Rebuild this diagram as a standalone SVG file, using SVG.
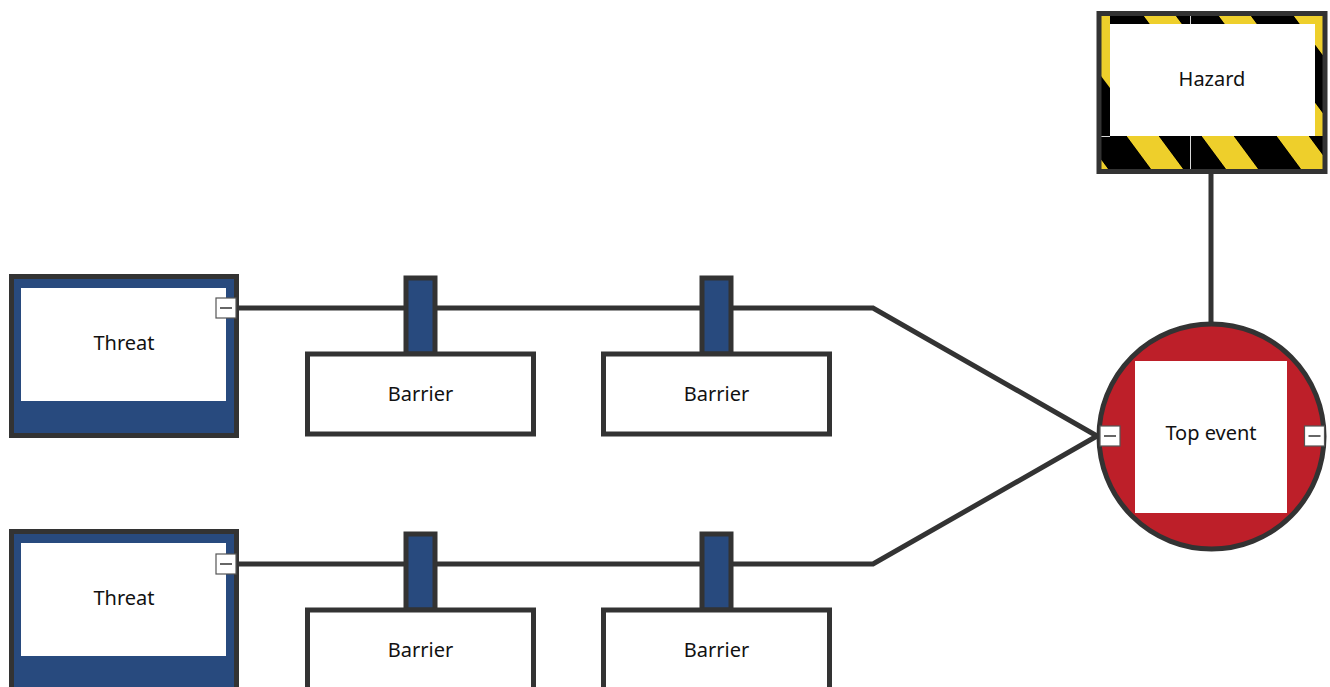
<svg xmlns="http://www.w3.org/2000/svg" width="1330" height="687" viewBox="0 0 1330 687">
<style>
.ln{fill:none;stroke:#333333;stroke-width:5}
.bd{stroke:#333333;stroke-width:5}
.blue{fill:#284a7e}
.wh{fill:#ffffff}
.lbl{font-family:"Noto Sans","Open Sans",sans-serif;font-size:20px;fill:#111111;text-anchor:middle}
.mbox{fill:#ffffff;stroke:#555555;stroke-width:1.2}
.mline{stroke:#333333;stroke-width:1.5}
</style>
<defs>
<pattern id="stA" patternUnits="userSpaceOnUse" x="7" y="0" width="75" height="75" patternTransform="skewX(36.5)">
<rect x="0" y="0" width="75" height="75" fill="#000000"/>
<rect x="0" y="0" width="32" height="75" fill="#eecf2b"/>
</pattern>
<pattern id="stB" patternUnits="userSpaceOnUse" x="51" y="0" width="75" height="75" patternTransform="skewX(36.5)">
<rect x="0" y="0" width="75" height="75" fill="#000000"/>
<rect x="0" y="0" width="32" height="75" fill="#eecf2b"/>
</pattern>
<g id="minus">
<rect class="mbox" x="-10" y="-10" width="20" height="20"/>
<line class="mline" x1="-6" y1="0" x2="6" y2="0"/>
</g>
</defs>

<g id="connectors">
<path class="ln" d="M236 308 H873 L1097 436"/>
<path class="ln" d="M236 564 H873 L1097 436"/>
<line class="ln" x1="1211" y1="173" x2="1211" y2="323"/>
</g>

<g id="hazard">
<rect x="1101" y="16" width="223" height="120" fill="url(#stA)"/>
<rect x="1101" y="24" width="9" height="112" fill="#000000"/>
<polygon points="1101,16 1110,16 1110,88 1101,76" fill="#eecf2b"/>
<rect x="1101" y="136" width="223" height="34" fill="url(#stB)"/>
<line x1="1190.5" y1="16" x2="1190.5" y2="170" stroke="#d8d8d8" stroke-width="1"/>
<line x1="1101" y1="136.5" x2="1110" y2="136.5" stroke="#d8d8d8" stroke-width="1"/>
<rect class="wh" x="1110" y="24" width="205" height="112"/>
<rect class="bd" x="1099" y="13.5" width="226" height="158" fill="none"/>
<text class="lbl" x="1212" y="86">Hazard</text>
</g>

<g id="threat1">
<rect class="bd blue" x="11.5" y="276.5" width="225" height="159"/>
<rect class="wh" x="21" y="288" width="205" height="113"/>
<text class="lbl" x="124" y="350">Threat</text>
<use href="#minus" x="226" y="308"/>
</g>

<g id="threat2">
<rect class="bd blue" x="11.5" y="531.5" width="225" height="159"/>
<rect class="wh" x="21" y="543" width="205" height="113"/>
<text class="lbl" x="124" y="605">Threat</text>
<use href="#minus" x="226" y="564"/>
</g>

<g id="barrier1">
<rect class="bd blue" x="406" y="278" width="29" height="76"/>
<rect class="bd wh" x="307.5" y="354" width="226" height="80"/>
<text class="lbl" x="420.5" y="401">Barrier</text>
</g>
<g id="barrier2">
<rect class="bd blue" x="702" y="278" width="29" height="76"/>
<rect class="bd wh" x="603.5" y="354" width="226" height="80"/>
<text class="lbl" x="716.5" y="401">Barrier</text>
</g>
<g id="barrier3">
<rect class="bd blue" x="406" y="534" width="29" height="76"/>
<rect class="bd wh" x="307.5" y="610" width="226" height="80"/>
<text class="lbl" x="420.5" y="657">Barrier</text>
</g>
<g id="barrier4">
<rect class="bd blue" x="702" y="534" width="29" height="76"/>
<rect class="bd wh" x="603.5" y="610" width="226" height="80"/>
<text class="lbl" x="716.5" y="657">Barrier</text>
</g>

<g id="topevent">
<circle class="bd" cx="1211.5" cy="436.5" r="112.5" fill="#bd1f29"/>
<rect class="wh" x="1135" y="361" width="152" height="152"/>
<text class="lbl" x="1211" y="440">Top event</text>
<use href="#minus" x="1110" y="436"/>
<use href="#minus" x="1314.5" y="436"/>
</g>
</svg>
